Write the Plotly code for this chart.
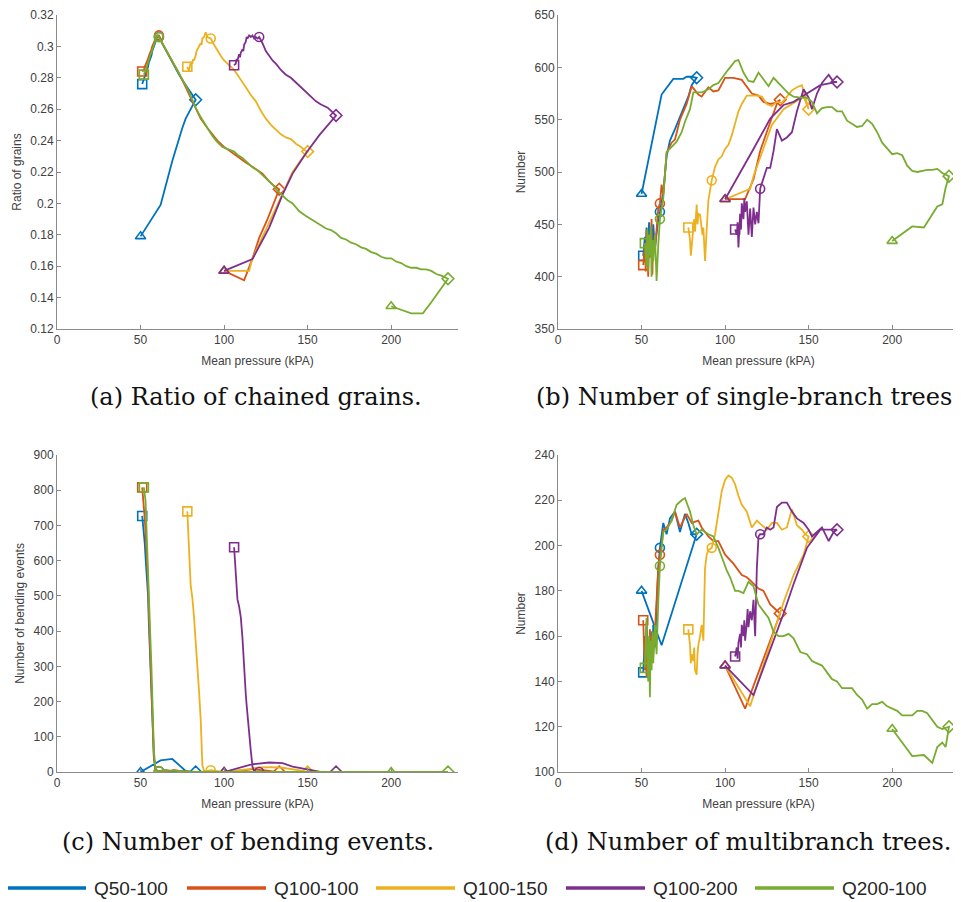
import plotly.graph_objects as go

names = ['Q50-100', 'Q100-100', 'Q100-150', 'Q100-200', 'Q200-100']
colors = ['#0072BD', '#D95319', '#EDB120', '#7E2F8E', '#77AC30']

# ---- Q50-100 : pressure path and the four measures ----
q50_p = [51, 52, 52.5, 53, 54, 54.5, 55, 56, 56.5, 57, 58, 59, 60, 61,
         63, 65, 67, 70, 73, 76, 78, 80, 83,
         80, 77, 75, 69, 62, 50]
q50_ratio = [0.276, 0.279, 0.281, 0.283, 0.286, 0.287, 0.290, 0.293, 0.294, 0.297, 0.300, 0.303, 0.306, 0.306,
             0.302, 0.297, 0.293, 0.288, 0.282, 0.277, 0.274, 0.271, 0.266,
             0.260, 0.254, 0.248, 0.227, 0.199, 0.179]
q50_single = [420, 438, 425, 447, 430, 452, 428, 445, 432, 450, 427, 440, 455, 462,
              480, 515, 530, 541, 552, 563, 572, 583, 590,
              591, 591, 589, 589, 574, 479]
q50_bend = [727, 680, 650, 610, 545, 500, 420, 300, 230, 170, 40, 5, 3, 2,
            4, 5, 3, 2, 1, 0, 0, 0, 0,
            0, 3, 12, 37, 33, 0]
q50_multi = [144, 160, 148, 166, 150, 158, 143, 162, 150, 165, 155, 175, 190, 199,
             210, 205, 212, 215, 206, 214, 210, 205, 205,
             198, 191, 186, 172, 156, 180]
q50_marks = [0, 13, 22, 28]

# ---- Q100-100 ----
q100_p = [51, 52, 52.5, 53, 54, 54.5, 55, 56, 56.5, 57, 58, 59, 60, 61,
          62, 63, 65, 68, 70, 73, 77, 80, 84, 86, 90, 93, 96, 100, 105, 110, 113, 116, 120, 123, 127, 130, 133,
          131, 126, 121, 117, 112, 100]
q100_ratio = [0.284, 0.285, 0.287, 0.288, 0.290, 0.292, 0.294, 0.296, 0.298, 0.300, 0.303, 0.305, 0.307, 0.307,
              0.305, 0.302, 0.298, 0.292, 0.288, 0.283, 0.274, 0.267, 0.258, 0.254, 0.248, 0.244, 0.240, 0.236,
              0.232, 0.228, 0.226, 0.224, 0.221, 0.219, 0.214, 0.211, 0.209,
              0.2035, 0.190, 0.178, 0.165, 0.151, 0.157]
q100_single = [411, 430, 405, 445, 400, 440, 418, 455, 402, 435, 425, 448, 465, 470,
               488, 478, 518, 528, 531, 550, 565, 582, 574, 572, 581, 577, 578, 590,
               590, 588, 581, 575, 573, 567, 565, 566, 569,
               565, 543, 520, 493, 474, 474]
q100_bend = [808, 760, 720, 680, 600, 540, 450, 330, 250, 170, 40, 8, 4, 3,
             3, 5, 4, 3, 6, 3, 2, 0, 0, 0, 0, 0, 0, 0,
             0, 0, 0, 0, 0, 0, 0, 0, 0,
             0, 4, 7, 8, 5, 0]
q100_multi = [167, 145, 160, 142, 158, 150, 163, 148, 160, 152, 162, 175, 190, 196,
              200, 207, 208, 211, 215, 208, 214, 210, 211, 208, 204, 202, 202, 196,
              192, 187, 186, 184, 181, 180, 174, 172, 170,
              166, 156, 146, 138, 128, 147]
q100_marks = [0, 13, 36, 42]

# ---- Q100-150 ----
q150_p = [78, 79, 79.5, 80, 81, 81.5, 82, 83, 83.5, 84, 85, 86, 86.5, 87, 88, 89, 90, 92,
          94, 96, 98, 100, 102, 104, 106, 108, 110, 113, 116, 119, 122, 125, 128, 131, 134, 137, 140, 143,
          146, 148, 150,
          147, 141, 135, 128, 121, 117, 115, 100]
q150_ratio = [0.287, 0.284, 0.287, 0.290, 0.289, 0.292, 0.291, 0.294, 0.297, 0.298, 0.300, 0.302, 0.301,
              0.305, 0.306, 0.309, 0.306, 0.305,
              0.301, 0.297, 0.294, 0.291, 0.289, 0.287, 0.285, 0.282, 0.279, 0.274, 0.269, 0.265, 0.259,
              0.254, 0.250, 0.247, 0.244, 0.242, 0.241, 0.238, 0.236, 0.234, 0.233,
              0.229, 0.220, 0.206, 0.190, 0.175, 0.165, 0.157, 0.157]
q150_single = [447, 435, 420, 430, 445, 455, 443, 469, 450, 460, 459, 448, 440, 447, 415, 445, 473, 492,
               505, 512, 515, 522, 526, 535, 548, 558, 565, 573, 573, 573, 572, 565, 563, 567, 566, 572,
               578, 581, 583, 572, 560,
               572, 566, 560, 545, 515, 496, 484, 474]
q150_bend = [740, 640, 565, 530, 495, 470, 440, 370, 340, 305, 230, 150, 90, 20, 3, 2, 3, 5,
             3, 2, 1, 0, 0, 0, 0, 0, 0, 0, 0, 0, 0, 0, 0, 0, 0, 0, 0, 0, 0, 0, 0,
             3, 8, 12, 14, 13, 10, 8, 0]
q150_multi = [163, 156, 148, 152, 149, 155, 145, 143, 152, 156, 160, 165, 162, 158, 190, 196, 198, 199,
              205, 215, 224, 229, 231, 230, 227, 222, 218, 215, 208, 211, 209, 207, 210, 210, 207, 208,
              216, 209, 207, 205, 204,
              196, 187, 175, 159, 143, 134, 129, 147]
q150_marks = [0, 17, 40, 48]

# ---- Q100-200 ----
q1200_p = [106, 107, 107.5, 108, 109, 109.5, 110, 111, 111.5, 112, 113, 113.5, 114, 115, 116, 117, 118,
           119, 120, 121,
           123, 125, 127, 129, 131, 134, 137, 140, 143, 147, 150, 152, 155, 158, 162, 165, 167,
           157, 149, 141, 135, 127, 117, 100]
q1200_ratio = [0.288, 0.289, 0.292, 0.291, 0.295, 0.293, 0.296, 0.298, 0.297, 0.301, 0.303, 0.306, 0.305,
               0.307, 0.306, 0.307, 0.305, 0.306, 0.305, 0.306,
               0.302, 0.297, 0.294, 0.291, 0.289, 0.285, 0.282, 0.280, 0.277, 0.273, 0.270, 0.268, 0.265,
               0.263, 0.261, 0.258, 0.256,
               0.2435, 0.232, 0.219, 0.2056, 0.1846, 0.1646, 0.157]
q1200_single = [445, 440, 452, 428, 460, 445, 470, 455, 475, 462, 472, 448, 440, 465, 438, 466, 450,
                462, 451, 484,
                495, 504, 504, 520, 541, 530, 533, 538, 558, 579, 571, 560, 575, 585, 593, 586, 586,
                583, 575, 567, 564, 551, 522, 474]
q1200_bend = [638, 560, 507, 490, 470, 455, 440, 380, 330, 290, 220, 190, 160, 110, 60, 15, 3, 2, 1, 0,
              0, 0, 0, 0, 0, 0, 0, 0, 0, 0, 0, 0, 0, 0, 0, 0, 0,
              1, 8, 15, 25, 27, 22, 0]
q1200_multi = [151, 155, 150, 157, 161, 155, 165, 160, 167, 158, 166, 172, 164, 171, 167, 176, 160,
               190, 204, 205,
               205, 208, 207, 208, 217, 219, 219, 215, 212, 210, 207, 204, 206, 208, 202, 206, 207,
               207, 199, 183, 170, 154, 134, 147]
q1200_marks = [0, 19, 36, 43]

# ---- Q200-100 ----
q2100_p = [52, 53, 53.5, 54, 54.5, 55, 55.5, 56, 56.5, 57, 58, 59, 60, 61,
           63, 65, 68, 71, 74, 76, 79, 81, 83, 86,
           90, 93, 96, 99, 101, 103, 106, 108, 111, 114,
           117, 120, 123, 126, 129, 132, 135, 138, 141, 145,
           149, 152, 155, 158, 161, 164, 167, 170, 173, 176,
           179, 182, 185, 188, 191, 194, 197, 200, 203, 206,
           209, 212, 215, 218, 221, 224, 227, 230, 234,
           232, 230, 227, 224, 219, 212, 200]
q2100_ratio = [0.282, 0.284, 0.286, 0.288, 0.290, 0.291, 0.293, 0.295, 0.296, 0.298, 0.301, 0.304, 0.307, 0.306,
               0.302, 0.298, 0.292, 0.287, 0.281, 0.277, 0.271, 0.266, 0.261, 0.255,
               0.248, 0.243, 0.239, 0.236, 0.235, 0.234, 0.233, 0.231, 0.229, 0.226,
               0.223, 0.221, 0.218, 0.215, 0.212, 0.208, 0.205, 0.202, 0.200, 0.195,
               0.192, 0.190, 0.188, 0.186, 0.184, 0.183, 0.181, 0.178, 0.177, 0.175,
               0.174, 0.172, 0.171, 0.169, 0.168, 0.166, 0.165, 0.165, 0.163, 0.162,
               0.160, 0.159, 0.159, 0.158, 0.158, 0.157, 0.155, 0.154, 0.152,
               0.149, 0.146, 0.141, 0.137, 0.130, 0.130, 0.1345]
q2100_single = [432, 410, 445, 405, 440, 420, 448, 400, 435, 415, 440, 396, 430, 455,
                475, 519, 524, 529, 538, 548, 560, 576, 576, 576,
                579, 583, 585, 592, 596, 600, 606, 607, 595, 587,
                586, 595, 589, 582, 590, 585, 580, 575, 572, 571,
                571, 567, 556, 561, 562, 562, 558, 558, 549, 546,
                543, 544, 550, 546, 538, 528, 522, 517, 518, 516,
                506, 501, 500, 501, 502, 502, 503, 499, 496,
                485, 469, 467, 459, 447, 448, 434]
q2100_bend = [808, 770, 700, 640, 580, 520, 450, 380, 300, 220, 60, 6, 3, 2,
              3, 5, 4, 3, 2, 1, 0, 0, 0, 0,
              0, 0, 0, 0, 0, 0, 0, 0, 0, 0,
              0, 0, 0, 0, 0, 0, 0, 0, 0, 0,
              0, 0, 0, 0, 0, 0, 0, 0, 0, 0,
              0, 0, 0, 0, 0, 0, 0, 0, 0, 0,
              0, 0, 0, 0, 0, 0, 0, 0, 0,
              0, 0, 0, 0, 0, 0, 0]
q2100_multi = [146, 168, 150, 140, 160, 133, 158, 145, 162, 148, 165, 152, 175, 191,
               206, 207, 211, 218, 220, 221, 215, 209, 205, 207,
               205, 204, 199, 193, 189, 186, 180, 180, 179, 184,
               182, 174, 171, 168, 162, 160, 160, 161, 159, 153,
               152, 149, 148, 147, 144, 141, 140, 137, 137, 137,
               134, 132, 128, 130, 130, 131, 129, 128, 127, 125,
               125, 125, 127, 127, 126, 123, 120, 119, 120,
               111, 113, 111, 104, 107.5, 107, 119]
q2100_marks = [0, 13, 72, 79]

pressures = [q50_p, q100_p, q150_p, q1200_p, q2100_p]
ratios = [q50_ratio, q100_ratio, q150_ratio, q1200_ratio, q2100_ratio]
singles = [q50_single, q100_single, q150_single, q1200_single, q2100_single]
bends = [q50_bend, q100_bend, q150_bend, q1200_bend, q2100_bend]
multis = [q50_multi, q100_multi, q150_multi, q1200_multi, q2100_multi]
marks = [q50_marks, q100_marks, q150_marks, q1200_marks, q2100_marks]

# start, peak, max load, end
mark_symbols = ['square-open', 'circle-open', 'diamond-open', 'triangle-up-open']

panels = [('x', 'y', ratios), ('x2', 'y2', singles), ('x3', 'y3', bends), ('x4', 'y4', multis)]

fig = go.Figure()
for xa, ya, measure in panels:
    for i in range(len(names)):
        p = pressures[i]
        v = measure[i]
        fig.add_trace(go.Scatter(x=p, y=v, mode='lines', xaxis=xa, yaxis=ya,
                                 line=dict(color=colors[i], width=1.8),
                                 showlegend=False, hoverinfo='skip'))
        idx = marks[i]
        fig.add_trace(go.Scatter(x=[p[k] for k in idx], y=[v[k] for k in idx], mode='markers',
                                 xaxis=xa, yaxis=ya,
                                 marker=dict(symbol=mark_symbols, size=9, color=colors[i],
                                             line=dict(color=colors[i], width=1.6)),
                                 showlegend=False, hoverinfo='skip'))

# the page body has an 8px margin, so positions below are page pixels minus that
OFF = 8
W, H = 961 - OFF, 902 - OFF
axis_col = '#8a8a8a'
tick_font = dict(family='Liberation Sans, Arial, sans-serif', size=12, color='#404040')


def px(sx):
    return (sx - OFF) / W


def py(sy):
    return 1 - (sy - OFF) / H


def xax(left, right, anchor):
    return dict(domain=[px(left), px(right)], anchor=anchor, range=[0, 240], automargin=False,
                tickvals=[0, 50, 100, 150, 200], showline=True, linecolor=axis_col,
                linewidth=1, ticks='inside', ticklen=4, tickcolor=axis_col,
                showgrid=False, zeroline=False, tickfont=tick_font, ticklabeloverflow='allow',
                title=dict(text='Mean pressure (kPA)', font=tick_font, standoff=10))


def yax(bottom, top, rng, dtick, title, anchor):
    return dict(domain=[py(bottom), py(top)], anchor=anchor, range=rng, dtick=dtick, automargin=False,
                showline=True, linecolor=axis_col, linewidth=1, ticks='inside', ticklen=4,
                tickcolor=axis_col, showgrid=False, zeroline=False, tickfont=tick_font,
                ticklabeloverflow='allow',
                title=dict(text=title, font=tick_font, standoff=6))


fig.update_layout(
    width=W, height=H, margin=dict(l=0, r=0, t=0, b=0, autoexpand=False),
    paper_bgcolor='white', plot_bgcolor='white', showlegend=False,
    xaxis=xax(57, 458, 'y'),
    yaxis=yax(329, 15, [0.12, 0.32], 0.02, 'Ratio of grains', 'x'),
    xaxis2=xax(558, 959, 'y2'),
    yaxis2=yax(329, 15, [350, 650], 50, 'Number', 'x2'),
    xaxis3=xax(57, 458, 'y3'),
    yaxis3=yax(772, 455, [0, 900], 100, 'Number of bending events', 'x3'),
    xaxis4=xax(558, 959, 'y4'),
    yaxis4=yax(772, 455, [100, 240], 20, 'Number', 'x4'),
)

captions = ['(a) Ratio of chained grains.', '(b) Number of single-branch trees',
            '(c) Number of bending events.', '(d) Number of multibranch trees.']
cap_pos = [(256, 397), (744, 397), (248, 842), (748, 842)]
cap_font = dict(family='DejaVu Serif, serif', size=24, color='#111111')
for text, (cx, cy) in zip(captions, cap_pos):
    fig.add_annotation(text=text, x=px(cx), y=py(cy), xref='paper', yref='paper',
                       showarrow=False, font=cap_font, xanchor='center', yanchor='middle')

# legend drawn along the bottom
leg_x = [7, 187, 376, 566, 755]
leg_y = 888
for i in range(len(names)):
    fig.add_shape(type='line', xref='paper', yref='paper',
                  x0=px(leg_x[i]), x1=px(leg_x[i] + 79), y0=py(leg_y), y1=py(leg_y),
                  line=dict(color=colors[i], width=3.5))
    fig.add_annotation(text=names[i], x=px(leg_x[i] + 85), y=py(leg_y),
                       xref='paper', yref='paper', showarrow=False, xanchor='left', yanchor='middle',
                       font=dict(family='Liberation Sans, Arial, sans-serif', size=19, color='#262626'))

fig.write_html('out.html')
